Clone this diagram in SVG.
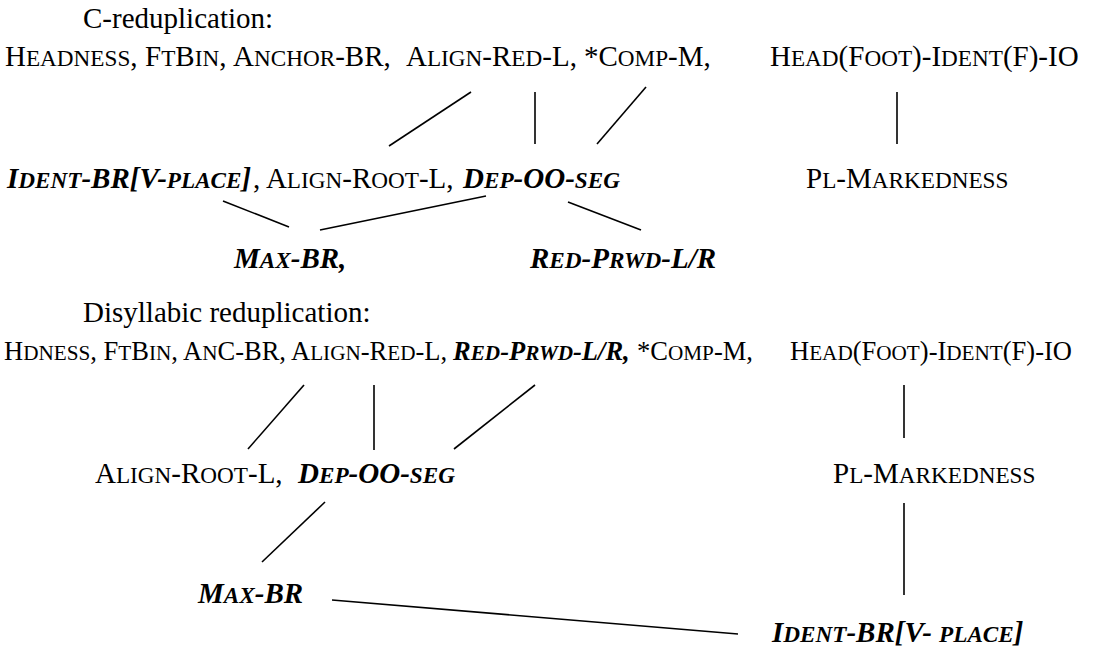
<svg xmlns="http://www.w3.org/2000/svg" width="1098" height="651" viewBox="0 0 1098 651">
<style>
text{font-family:"Liberation Serif","Times New Roman",serif;font-size:29px;fill:#000;white-space:pre}
.s{font-size:23.2px}
.b{font-weight:bold;font-style:italic}
.sm{font-size:26.5px}
.sm .s{font-size:21.2px}
#connectors line{stroke:#000;stroke-width:1.6;fill:none}
</style>
<rect width="1098" height="651" fill="#fff"/>
<g id="title-c"><text x="83" y="28">C-reduplication:</text></g>
<g id="c-headness"><text x="5" y="66">H<tspan class="s">EADNESS</tspan>,</text></g>
<g id="c-ftbin"><text x="145" y="66">F<tspan class="s">T</tspan>B<tspan class="s">IN</tspan>,</text></g>
<g id="c-anchor"><text x="233" y="66">A<tspan class="s">NCHOR</tspan>-BR,</text></g>
<g id="c-alignred"><text x="406" y="66">A<tspan class="s">LIGN</tspan>-R<tspan class="s">ED</tspan>-L,</text></g>
<g id="c-comp"><text x="584" y="66">*C<tspan class="s">OMP</tspan>-M,</text></g>
<g id="c-headfoot"><text x="770" y="66">H<tspan class="s">EAD</tspan>(F<tspan class="s">OOT</tspan>)-I<tspan class="s">DENT</tspan>(F)-IO</text></g>
<g id="c-identbr"><text x="7" y="188" class="b">I<tspan class="s">DENT</tspan>-BR[V-<tspan class="s">PLACE</tspan>]</text></g>
<g id="c-alignroot"><text x="253" y="188">, A<tspan class="s">LIGN</tspan>-R<tspan class="s">OOT</tspan>-L, </text></g>
<g id="c-dep"><text x="463" y="188" class="b">D<tspan class="s">EP</tspan>-OO-<tspan class="s">SEG</tspan></text></g>
<g id="c-plmark"><text x="806" y="188">P<tspan class="s">L</tspan>-M<tspan class="s">ARKEDNESS</tspan></text></g>
<g id="c-maxbr"><text x="234" y="268" class="b">M<tspan class="s">AX</tspan>-BR,</text></g>
<g id="c-redprwd"><text x="530" y="268" class="b">R<tspan class="s">ED</tspan>-P<tspan class="s">RWD</tspan>-L/R</text></g>
<g id="title-d"><text x="83" y="322">Disyllabic reduplication:</text></g>
<g id="d-row">
<text x="4" y="360" class="sm">H<tspan class="s">DNESS</tspan>, F<tspan class="s">T</tspan>B<tspan class="s">IN</tspan>, A<tspan class="s">N</tspan>C-BR, </text>
</g>
<g id="d-alignred"><text x="291" y="360" class="sm">A<tspan class="s">LIGN</tspan>-R<tspan class="s">ED</tspan>-L, </text></g>
<g id="d-redprwd"><text x="453" y="360" class="sm b">R<tspan class="s">ED</tspan>-P<tspan class="s">RWD</tspan>-L/R,</text></g>
<g id="d-comp"><text x="637" y="360" class="sm">*C<tspan class="s">OMP</tspan>-M,</text></g>
<g id="d-headfoot"><text x="790" y="360" class="sm">H<tspan class="s">EAD</tspan>(F<tspan class="s">OOT</tspan>)-I<tspan class="s">DENT</tspan>(F)-IO</text></g>
<g id="d-alignroot"><text x="95" y="483">A<tspan class="s">LIGN</tspan>-R<tspan class="s">OOT</tspan>-L, </text></g>
<g id="d-dep"><text x="298" y="483" class="b">D<tspan class="s">EP</tspan>-OO-<tspan class="s">SEG</tspan></text></g>
<g id="d-plmark"><text x="833" y="483">P<tspan class="s">L</tspan>-M<tspan class="s">ARKEDNESS</tspan></text></g>
<g id="d-maxbr"><text x="198" y="603" class="b">M<tspan class="s">AX</tspan>-BR</text></g>
<g id="d-identbr"><text x="772" y="642" class="b">I<tspan class="s">DENT</tspan>-BR[V- <tspan class="s">PLACE</tspan>]</text></g>
<g id="connectors">
<line x1="471" y1="92" x2="389" y2="146"/>
<line x1="535" y1="92" x2="535" y2="144"/>
<line x1="646" y1="87" x2="597" y2="144"/>
<line x1="897" y1="92" x2="897" y2="144"/>
<line x1="223" y1="201" x2="289" y2="227"/>
<line x1="486" y1="196" x2="320" y2="230"/>
<line x1="568" y1="202" x2="641" y2="230"/>
<line x1="304" y1="385" x2="248" y2="449"/>
<line x1="374" y1="385" x2="374" y2="450"/>
<line x1="535" y1="385" x2="454" y2="449"/>
<line x1="904" y1="385" x2="904" y2="438"/>
<line x1="325" y1="502" x2="262" y2="562"/>
<line x1="904" y1="503" x2="904" y2="595"/>
<line x1="332" y1="600" x2="738" y2="634"/>
</g>
</svg>
